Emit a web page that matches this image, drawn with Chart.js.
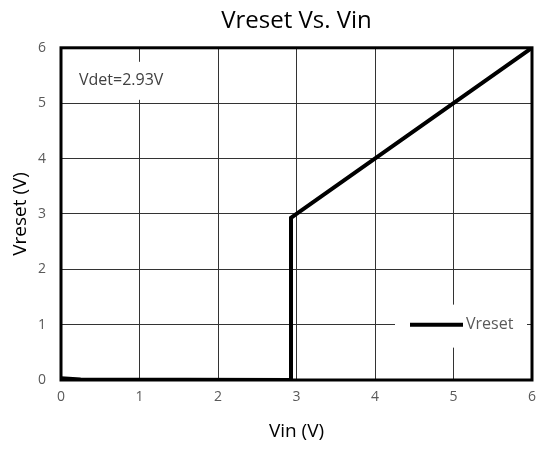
<!DOCTYPE html>
<html>
<head>
<meta charset="utf-8">
<script src="https://cdn.jsdelivr.net/npm/chart.js@4/dist/chart.umd.min.js"></script>
<style>
  html, body { margin: 0; padding: 0; background: #fff; }
  #wrap { width: 537px; height: 450px; }
</style>
</head>
<body>
<div id="wrap"><canvas id="chart" width="537" height="450"></canvas></div>
<script>
// Data
const vinValues = [0, 0.25, 2.93, 2.93, 3.0, 6];
const vresetValues = [0.03, 0.01, 0, 2.93, 3.0, 6];
const seriesLabel = 'Vreset';
const noteText = 'Vdet=2.93V';
const axisTicks = [0, 1, 2, 3, 4, 5, 6];

const FONT = "'Open Sans', 'Noto Sans', sans-serif";
const GREY = '#595959';

// draws the thick frame, the note box and the inside legend
const framePlugin = {
  id: 'frameAndBoxes',
  beforeDatasetsDraw(chart) {
    const { ctx, chartArea: a } = chart;
    ctx.save();

    // note box at the upper left
    ctx.fillStyle = '#fff';
    ctx.fillRect(a.left + 2, a.top + 14, 124, 38);
    ctx.font = '16px ' + FONT;
    ctx.fillStyle = '#404040';
    ctx.textBaseline = 'middle';
    ctx.textAlign = 'left';
    ctx.fillText(noteText, a.left + 18, a.top + 33);

    // legend box at the lower right
    const ds = chart.data.datasets[0];
    const ly = chart.scales.y.getPixelForValue(1);
    ctx.fillStyle = '#fff';
    ctx.fillRect(a.right - 137, ly - 20, 132, 43);
    ctx.strokeStyle = ds.borderColor;
    ctx.lineWidth = ds.borderWidth;
    ctx.beginPath();
    ctx.moveTo(a.right - 122, ly);
    ctx.lineTo(a.right - 69, ly);
    ctx.stroke();
    ctx.fillStyle = GREY;
    ctx.fillText(ds.label, a.right - 66, ly);

    // frame
    ctx.strokeStyle = '#000';
    ctx.lineWidth = 3;
    ctx.strokeRect(a.left, a.top, a.right - a.left, a.bottom - a.top);
    ctx.restore();
  }
};

const points = vinValues.map((x, i) => ({ x, y: vresetValues[i] }));

new Chart(document.getElementById('chart'), {
  type: 'scatter',
  data: {
    datasets: [{
      label: seriesLabel,
      data: points,
      showLine: true,
      borderColor: '#000',
      borderWidth: 4,
      pointRadius: 0,
      fill: false,
      tension: 0
    }]
  },
  options: {
    responsive: false,
    animation: false,
    layout: { padding: { top: 0, right: 5, bottom: 0, left: 0 } },
    plugins: {
      legend: { display: false },
      tooltip: { enabled: false },
      title: {
        display: true,
        fullSize: false,
        text: 'Vreset Vs. Vin',
        color: '#000',
        font: { family: FONT, size: 24, weight: 'normal', lineHeight: 1.2 },
        padding: { top: 7, bottom: 12 }
      }
    },
    scales: {
      x: {
        type: 'linear',
        min: 0,
        max: 6,
        afterBuildTicks: s => { s.ticks = axisTicks.map(v => ({ value: v })); },
        afterFit: s => { s.height = 70; s.paddingLeft = 0; s.paddingRight = 0; },
        border: { display: false },
        grid: { color: '#333', lineWidth: 1, drawTicks: false },
        ticks: { color: GREY, padding: 9, font: { family: FONT, size: 14 } },
        title: {
          display: true,
          text: 'Vin (V)',
          color: '#000',
          font: { family: FONT, size: 19, lineHeight: 1.2 },
          padding: { top: 0, bottom: 7 }
        }
      },
      y: {
        type: 'linear',
        min: 0,
        max: 6,
        afterBuildTicks: s => { s.ticks = axisTicks.map(v => ({ value: v })); },
        afterFit: s => { s.width = 61; s.paddingTop = 0; s.paddingBottom = 0; },
        border: { display: false },
        grid: { color: '#333', lineWidth: 1, drawTicks: false },
        ticks: { color: GREY, padding: 15, font: { family: FONT, size: 14 } },
        title: {
          display: true,
          text: 'Vreset (V)',
          color: '#000',
          font: { family: FONT, size: 19, lineHeight: 1.2 },
          padding: { top: 9, bottom: 0 }
        }
      }
    }
  },
  plugins: [framePlugin]
});
</script>
</body>
</html>
